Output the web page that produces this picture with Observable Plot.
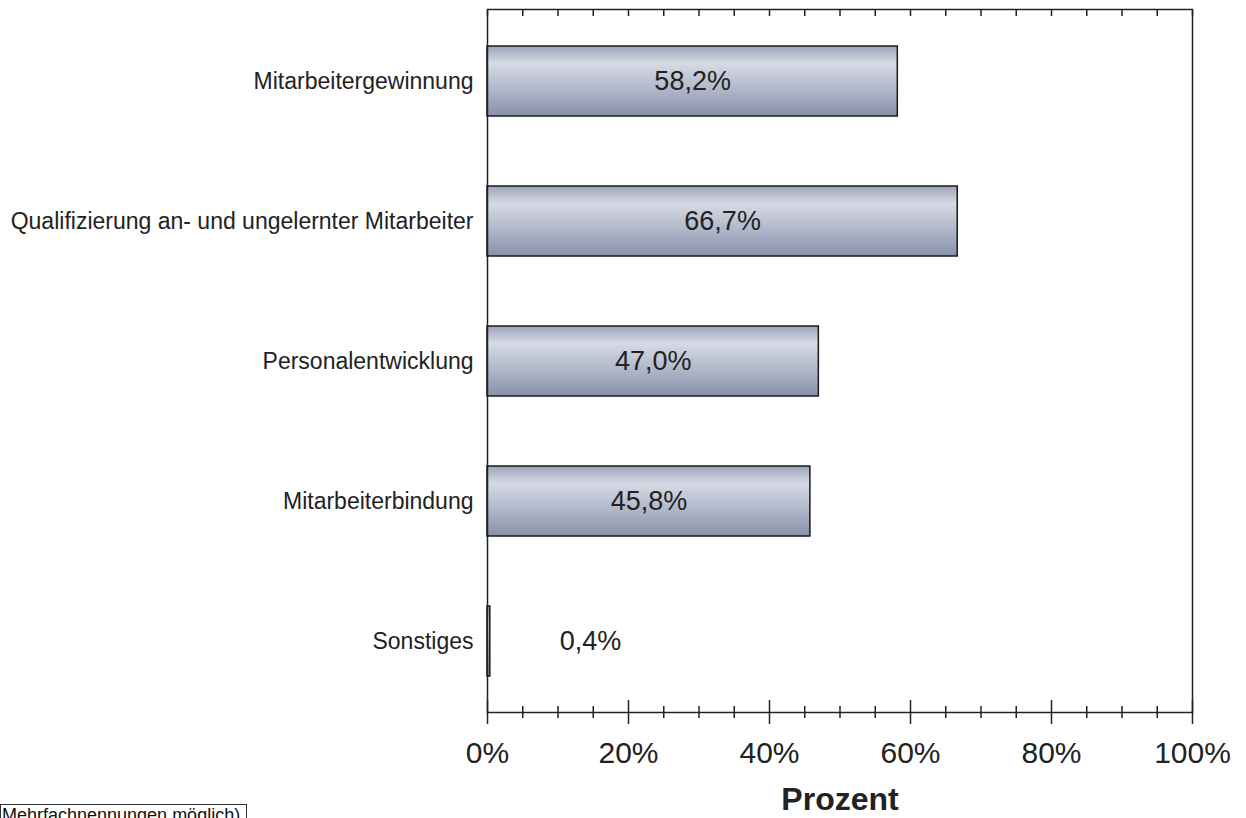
<!DOCTYPE html>
<html>
<head>
<meta charset="utf-8">
<script src="https://cdn.jsdelivr.net/npm/d3@7"></script>
<script src="https://cdn.jsdelivr.net/npm/@observablehq/plot@0.6"></script>
<style>
  html, body { margin: 0; padding: 0; background: #fff; }
  #wrap { position: relative; width: 1246px; height: 818px; overflow: hidden; font-family: "Liberation Sans", Arial, sans-serif; }
  #note { position: absolute; left: 0; top: 804px; width: 247px; height: 30px; border: 1.5px solid #333; box-sizing: border-box;
          font-size: 18px; line-height: 20px; padding-left: 1px; color: #111; white-space: nowrap; background: #fff; }
</style>
</head>
<body>
<div id="wrap"><div id="chart"></div><div id="note">Mehrfachnennungen möglich)</div></div>
<script>
const categories = ["Mitarbeitergewinnung", "Qualifizierung an- und ungelernter Mitarbeiter", "Personalentwicklung", "Mitarbeiterbindung", "Sonstiges"];
const values = [58.2, 66.7, 47.0, 45.8, 0.4];
const valueLabels = ["58,2%", "66,7%", "47,0%", "45,8%", "0,4%"];
const majorTicks = [0, 20, 40, 60, 80, 100];
const minorTicks = [5, 10, 15, 25, 30, 35, 45, 50, 55, 65, 70, 75, 85, 90, 95];
const allTicks = [0, 5, 10, 15, 20, 25, 30, 35, 40, 45, 50, 55, 60, 65, 70, 75, 80, 85, 90, 95, 100];

const data = categories.map((c, i) => ({category: c, value: values[i], label: valueLabels[i]}));

const gradientDefs = () => {
  const defs = d3.create("svg:defs");
  const g = defs.append("linearGradient").attr("id", "barGrad")
    .attr("x1", 0).attr("y1", 0).attr("x2", 0).attr("y2", 1);
  g.append("stop").attr("offset", "0%").attr("stop-color", "#9ca4ba");
  g.append("stop").attr("offset", "25%").attr("stop-color", "#d6dae4");
  g.append("stop").attr("offset", "60%").attr("stop-color", "#b2b9cb");
  g.append("stop").attr("offset", "100%").attr("stop-color", "#8891a9");
  return defs.node();
};

const ink = "#222";

const chart = Plot.plot({
  width: 1246,
  height: 818,
  marginLeft: 487,
  marginRight: 54,
  marginTop: 9,
  marginBottom: 106,
  style: {fontFamily: "'Liberation Sans', Arial, sans-serif", color: ink, background: "transparent", overflow: "visible"},
  x: {domain: [0, 100], label: null},
  y: {domain: categories, paddingInner: 0.5, paddingOuter: 0.25, label: null},
  marks: [
    gradientDefs,
    Plot.barX(data, {y: "category", x: "value", fill: "url(#barGrad)", stroke: "#1a1a1a", strokeWidth: 1.5}),
    Plot.text(data, {
      y: "category",
      x: d => d.value < 10 ? d.value + 14.2 : d.value / 2,
      text: "label",
      fontSize: 27,
      fill: ink
    }),
    Plot.frame({stroke: ink, strokeWidth: 1.5}),
    Plot.axisY({tickSize: 0, tickPadding: 14, fontSize: 23, label: null, fill: ink}),
    Plot.axisX(allTicks, {anchor: "top", tickSize: 6, dy: 6, fill: "none", label: null, stroke: ink, strokeWidth: 1.5}),
    Plot.axisX(minorTicks, {anchor: "bottom", tickSize: 12, dy: -6, fill: "none", label: null, stroke: ink, strokeWidth: 1.5}),
    Plot.axisX(majorTicks, {anchor: "bottom", tickSize: 24, dy: -12, fill: "none", label: null, stroke: ink, strokeWidth: 1.5}),
    Plot.axisX(majorTicks, {anchor: "bottom", tickSize: 0, tickPadding: 29, fontSize: 30, tickFormat: d => d + "%", label: null, fill: ink}),
    Plot.text(["Prozent"], {frameAnchor: "bottom", dy: 97, text: d => d, fontSize: 32, fontWeight: "bold", fill: ink})
  ]
});
document.getElementById("chart").appendChild(chart);
</script>
</body>
</html>
